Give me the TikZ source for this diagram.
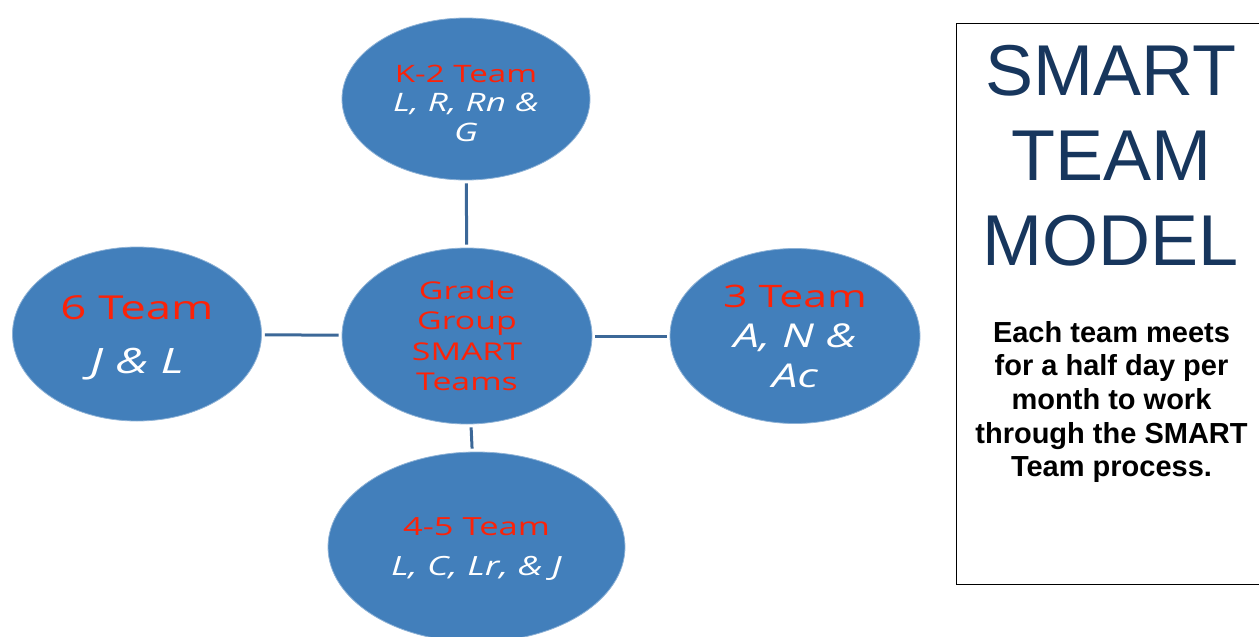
\documentclass[tikz,border=0pt]{standalone}
\usepackage{fontspec}
\usepackage{graphicx}
\usetikzlibrary{shapes.geometric}
\newfontfamily\osans{Open Sans}
\newfontfamily\arialf{Liberation Sans}
\definecolor{ellblue}{RGB}{66,127,187}
\definecolor{ellred}{RGB}{252,34,8}
\definecolor{linkblue}{RGB}{60,104,152}
\definecolor{navy}{RGB}{23,54,93}
\newcommand{\wtxt}[2]{\raisebox{-#1}[\height][\depth]{\scalebox{1.38}[1]{\begin{tabular}{@{}c@{}}#2\end{tabular}}}}
\newcommand{\rt}[1]{\textcolor{ellred}{#1}}
\newcommand{\wt}[1]{\textcolor{white}{\itshape\scalebox{1.06}{#1}}}
\tikzset{
  team/.style={ellipse, fill=ellblue, draw=ellblue!60!white, line width=0.8pt, inner sep=0pt, font=\osans},
  link/.style={draw=linkblue, line width=3pt, shorten <=3pt, shorten >=3pt},
}
\begin{document}
\begin{tikzpicture}[x=1pt,y=-1pt]
\useasboundingbox (0,0) rectangle (1259,637);
\clip (0,0) rectangle (1259,637);
\node[team, minimum width=248pt, minimum height=162pt] (k2) at (466,99)
  {\fontsize{24}{29.5}\selectfont\wtxt{7pt}{\rt{K-2 Team}\\ \wt{L, R, Rn \&}\\ \wt{G}}};
\node[team, minimum width=250pt, minimum height=176pt] (grp) at (467,336)
  {\fontsize{24.5}{30.5}\selectfont\wtxt{3pt}{\rt{Grade}\\ \rt{Group}\\ \rt{SMART}\\ \rt{Teams}}};
\node[team, minimum width=249pt, minimum height=174pt] (k6) at (137,334)
  {\fontsize{33}{40}\selectfont\wtxt{4pt}{\rt{6 Team}\\[14pt] \wt{J \& L}}};
\node[team, minimum width=250pt, minimum height=175pt] (k3) at (795,336)
  {\fontsize{31}{40}\selectfont\wtxt{3.5pt}{\rt{3 Team}\\ \wt{A, N \&}\\ \wt{Ac}}};
\node[team, minimum width=297pt, minimum height=190pt] (k45) at (476.5,547)
  {\fontsize{25}{40}\selectfont\wtxt{0.5pt}{\rt{4-5 Team}\\ \wt{L, C, Lr, \& J}}};
\draw[link] (k2) -- (grp);
\draw[link] (k6) -- (grp);
\draw[link] (grp) -- (k3);
\draw[link] (grp) -- (k45);
\node[draw=black, line width=1.4pt, minimum width=307pt, minimum height=561pt, anchor=north west, inner sep=0pt] (box) at (955.5,22.5) {};
\node[anchor=north, inner sep=0pt, align=center, text=navy, font=\arialf\fontsize{72}{85}\selectfont] (title) at (1111,45) {SMART\\TEAM\\MODEL};
\node[anchor=north, inner sep=0pt, align=center, text=black, font=\arialf\bfseries\fontsize{29}{33.6}\selectfont] (body) at (1111.5,321) {Each team meets\\for a half day per\\month to work\\through the SMART\\Team process.};
\end{tikzpicture}
\end{document}
